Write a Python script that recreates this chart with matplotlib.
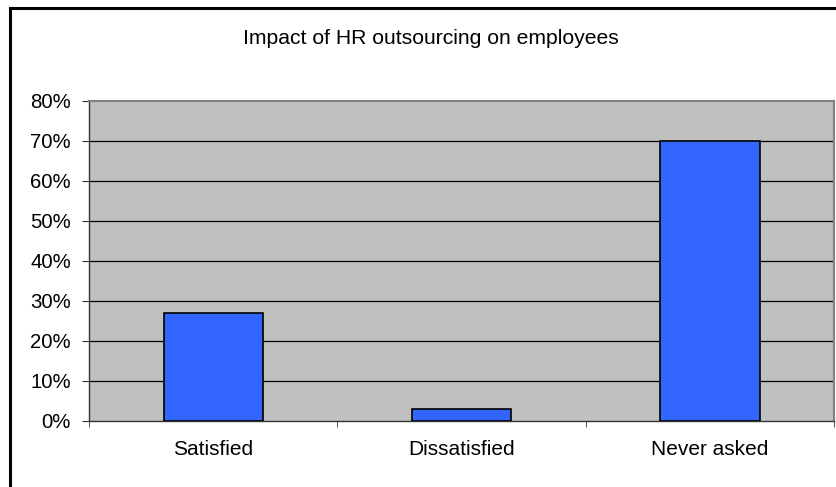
import matplotlib
matplotlib.use("Agg")
import matplotlib.pyplot as plt
from matplotlib.patches import Rectangle
from matplotlib.ticker import FuncFormatter

categories = ["Satisfied", "Dissatisfied", "Never asked"]
values = [27, 3, 70]
yticks = [0, 10, 20, 30, 40, 50, 60, 70, 80]
title = "Impact of HR outsourcing on employees"

plt.rcParams['font.family'] = ['Liberation Sans', 'DejaVu Sans']

fig = plt.figure(figsize=(8.36, 4.87), dpi=100)
W, H = 836, 487
fig.patches.append(Rectangle((9.5 / W, -0.05), 1.2, (H - 7.5) / H + 0.05,
                             transform=fig.transFigure, fill=False,
                             edgecolor='black', linewidth=2.2, zorder=0))

ax = fig.add_axes([89 / W, (H - 421) / H, (834 - 89) / W, (421 - 101) / H])
ax.set_facecolor('#C0C0C0')
x = list(range(len(categories)))
ax.bar(x, values, width=0.4, color='#3366FF', edgecolor='black', linewidth=1.2, zorder=3)
ax.set_xlim(-0.5, len(categories) - 0.5)
ax.set_ylim(0, 80)
ax.set_yticks(yticks)
ax.yaxis.set_major_formatter(FuncFormatter(lambda v, p: f"{int(v)}%"))
ax.set_xticks(x)
ax.set_xticklabels(categories)
ax.set_xticks([-0.5, 0.5, 1.5, 2.5], minor=True)
ax.tick_params(axis='x', which='major', length=0, pad=14, labelsize=15)
ax.tick_params(axis='x', which='minor', length=4.5, direction='out', color='#333333')
ax.tick_params(axis='y', length=5, direction='out', color='#333333', labelsize=14.7, pad=8)
for v in yticks[1:-1]:
    ax.axhline(v, color='black', linewidth=0.9, zorder=1)
for s in ['top', 'right']:
    ax.spines[s].set_color('#808080')
    ax.spines[s].set_linewidth(1.5)
for s in ['left', 'bottom']:
    ax.spines[s].set_color('#333333')
    ax.spines[s].set_linewidth(1.0)

fig.text(430.5 / W, (H - 38.5) / H, title, ha='center', va='center', fontsize=15.2)

fig.savefig("out.png", dpi=100)
